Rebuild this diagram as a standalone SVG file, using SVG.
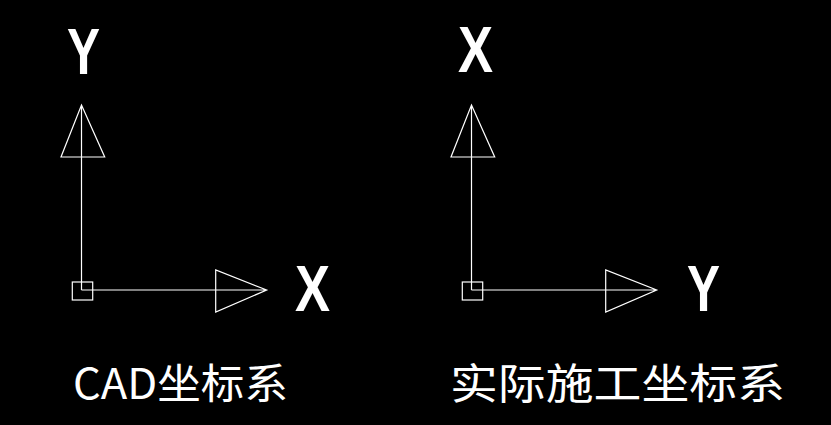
<svg xmlns="http://www.w3.org/2000/svg" width="831" height="425" viewBox="0 0 831 425">
<style>
.l{stroke:#fff;stroke-width:1.2;fill:none}
.a{font-family:"Liberation Sans",sans-serif;font-weight:bold;fill:#fff;font-size:64px}
.c{font-family:"Noto Sans CJK SC",sans-serif;fill:#fff;font-size:42px}
</style>
<rect width="831" height="425" fill="#000"/>
<defs>
<g id="axes">
<path class="l" d="M81.5,290V105M61,157H104.7L81.5,105ZM81.5,290H266.7M215.7,270V312L266.7,290Z"/>
<rect class="l" x="72.3" y="282" width="20.4" height="18"/>
</g>
</defs>
<g id="cad"><use href="#axes"/>
<text class="a" x="67" y="74" textLength="33" lengthAdjust="spacingAndGlyphs">Y</text>
<text class="a" x="295" y="311" textLength="35" lengthAdjust="spacingAndGlyphs">X</text>
<text class="c" x="73" y="399" textLength="215" lengthAdjust="spacingAndGlyphs">CAD坐标系</text>
</g>
<g id="real"><use href="#axes" x="390"/>
<text class="a" x="458" y="72" textLength="35" lengthAdjust="spacingAndGlyphs">X</text>
<text class="a" x="687" y="311" textLength="33" lengthAdjust="spacingAndGlyphs">Y</text>
<text class="c" x="450" y="399" textLength="335" lengthAdjust="spacingAndGlyphs">实际施工坐标系</text>
</g>
</svg>
